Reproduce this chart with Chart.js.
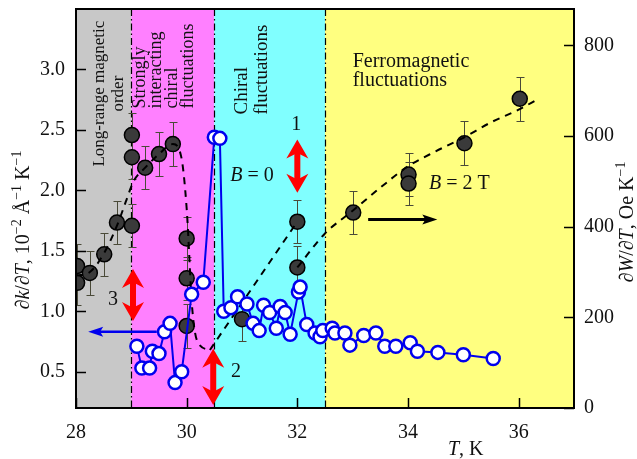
<!DOCTYPE html>
<html>
<head>
<meta charset="utf-8">
<script src="https://cdn.jsdelivr.net/npm/chart.js@4"></script>
<style>
html, body { margin: 0; padding: 0; background: #fff; }
</style>
</head>
<body>
<canvas id="chart" width="637" height="459"></canvas>
<script>
// dk/dT at B = 0 (open blue circles, left axis)
var kT = [29.10, 29.19, 29.33, 29.38, 29.50, 29.60, 29.70, 29.79, 29.91, 30.09, 30.30, 30.50, 30.60, 30.67,
          30.80, 30.92, 31.09, 31.20, 31.31, 31.39, 31.50, 31.62, 31.69, 31.78, 31.87, 32.02, 32.05, 32.17,
          32.32, 32.41, 32.46, 32.63, 32.68, 32.86, 32.95, 33.20, 33.42, 33.58, 33.78, 34.04, 34.17, 34.54,
          35.00, 35.54];
var kVal = [0.71, 0.53, 0.53, 0.67, 0.65, 0.83, 0.90, 0.41, 0.50, 1.14, 1.24, 2.44, 2.43, 1.00,
            1.03, 1.12, 1.06, 0.90, 0.84, 1.05, 0.99, 0.86, 1.04, 0.99, 0.81, 1.16, 1.20, 0.89,
            0.82, 0.79, 0.84, 0.86, 0.82, 0.82, 0.72, 0.80, 0.82, 0.71, 0.71, 0.74, 0.67, 0.66,
            0.64, 0.61];

// dW/dT at B = 2 T (filled circles, right axis) with error bars
var wT   = [28.02, 28.02, 28.25, 28.51, 28.74, 29.01, 29.01, 29.01, 29.25, 29.50, 29.75, 30.00, 30.00, 30.00,
            31.00, 32.00, 32.00, 33.01, 34.01, 34.01, 35.02, 36.02];
var wVal = [313, 276, 298, 339, 409, 402, 553, 602, 530, 560, 582, 374, 286, 181,
            196, 310, 411, 431, 515, 495, 584, 682];
var wErr = [48, 48, 48, 48, 48, 48, 48, 48, 48, 48, 48, 48, 48, 48,
            48, 48, 48, 48, 48, 48, 48, 48];

// dashed guide curves (right axis)
var guide1T   = [28.0, 28.25, 28.5, 28.75, 28.9, 29.04, 29.25, 29.5, 29.75, 29.9, 30.0, 30.1, 30.2, 30.42];
var guide1Val = [292, 300, 340, 405, 455, 500, 530, 560, 582, 555, 440, 220, 145, 128];
var guide2T   = [30.42, 32.0];
var guide2Val = [128, 411];
var guide3T   = [32.0, 32.5, 33.0, 33.5, 34.0, 34.5, 35.0, 35.5, 36.0, 36.33];
var guide3Val = [310, 385, 435, 486, 533, 566, 596, 630, 658, 680];

// axes
var xTicks = [28, 30, 32, 34, 36];
var leftTicks = [0.5, 1.0, 1.5, 2.0, 2.5, 3.0];
var rightTicks = [0, 200, 400, 600, 800];

// regimes
var regionEdges = [28, 29, 30.5, 32.5, 37];
var regionColors = ['#c8c8c8', '#ff80ff', '#80ffff', '#ffff80'];

var SERIF = "'Liberation Serif', 'Times New Roman', serif";
Chart.defaults.font.family = SERIF;

function pts(xs, ys) {
    return xs.map(function (x, i) { return { x: x, y: ys[i] }; });
}

function fontFor(style, size) {
    if (style === 'sup') return (size * 0.7) + 'px ' + SERIF;
    return (style || '') + size + 'px ' + SERIF;
}

// draw text made of pieces (italic letters, superscripts)
function drawRich(ctx, parts, x, y, size, rot, align) {
    ctx.save();
    ctx.translate(x, y);
    ctx.rotate(rot);
    ctx.textBaseline = 'alphabetic';
    ctx.textAlign = 'left';
    var w = 0;
    parts.forEach(function (p) { ctx.font = fontFor(p[1], size); w += ctx.measureText(p[0]).width; });
    var cx = align === 'center' ? -w / 2 : 0;
    parts.forEach(function (p) {
        ctx.font = fontFor(p[1], size);
        ctx.fillText(p[0], cx, p[1] === 'sup' ? -size * 0.42 : 0);
        cx += ctx.measureText(p[0]).width;
    });
    ctx.restore();
}

function lines(ctx, list, xs, y, size, rot, align) {
    list.forEach(function (t, i) { drawRich(ctx, [[t, '']], xs[i], y, size, rot, align); });
}

function arrowHead(ctx, x, y, ang, len, half, notch) {
    ctx.save();
    ctx.translate(x, y);
    ctx.rotate(ang);
    ctx.beginPath();
    ctx.moveTo(0, 0);
    ctx.lineTo(-len, -half);
    ctx.lineTo(-len * notch, 0);
    ctx.lineTo(-len, half);
    ctx.closePath();
    ctx.fill();
    ctx.restore();
}

function redArrow(ctx, x, y1, y2) {
    ctx.save();
    ctx.strokeStyle = '#ff0000';
    ctx.fillStyle = '#ff0000';
    ctx.lineWidth = 6;
    ctx.beginPath();
    ctx.moveTo(x, y1 + 10);
    ctx.lineTo(x, y2 - 10);
    ctx.stroke();
    arrowHead(ctx, x, y1, -Math.PI / 2, 19, 11, 0.7);
    arrowHead(ctx, x, y2, Math.PI / 2, 19, 11, 0.7);
    ctx.restore();
}

function flatArrow(ctx, x1, x2, y, color, width) {
    ctx.save();
    ctx.strokeStyle = color;
    ctx.fillStyle = color;
    ctx.lineWidth = width;
    var dir = x2 > x1 ? 1 : -1;
    ctx.beginPath();
    ctx.moveTo(x1, y);
    ctx.lineTo(x2 - dir * 8, y);
    ctx.stroke();
    arrowHead(ctx, x2, y, dir > 0 ? 0 : Math.PI, 15, 5, 0.8);
    ctx.restore();
}

function noEdgePadding(s) {
    s.paddingTop = 0;
    s.paddingBottom = 0;
    s.paddingLeft = 0;
    s.paddingRight = 0;
}

var decor = {
    id: 'decor',
    beforeDraw: function (chart) {
        var ctx = chart.ctx, a = chart.chartArea, xs = chart.scales.x;
        ctx.save();
        for (var i = 0; i < regionColors.length; i++) {
            var l = xs.getPixelForValue(regionEdges[i]);
            var r = xs.getPixelForValue(regionEdges[i + 1]);
            ctx.fillStyle = regionColors[i];
            ctx.fillRect(l, a.top, r - l, a.bottom - a.top);
        }
        ctx.restore();
    },
    beforeDatasetsDraw: function (chart) {
        var ctx = chart.ctx, a = chart.chartArea, xs = chart.scales.x, ys = chart.scales.y2;
        ctx.save();
        // regime boundaries
        ctx.strokeStyle = '#000';
        ctx.lineWidth = 1.2;
        ctx.setLineDash([7, 3, 1.5, 3]);
        [29, 30.5, 32.5].forEach(function (v) {
            var x = Math.round(xs.getPixelForValue(v)) + 0.5;
            ctx.beginPath();
            ctx.moveTo(x, a.top);
            ctx.lineTo(x, a.bottom);
            ctx.stroke();
        });
        ctx.setLineDash([]);
        // error bars
        ctx.beginPath();
        ctx.rect(a.left, a.top, a.right - a.left, a.bottom - a.top);
        ctx.clip();
        ctx.strokeStyle = '#4a4a38';
        ctx.lineWidth = 1;
        wT.forEach(function (t, i) {
            var x = Math.round(xs.getPixelForValue(t)) + 0.5;
            var yt = Math.round(ys.getPixelForValue(wVal[i] + wErr[i])) + 0.5;
            var yb = Math.round(ys.getPixelForValue(wVal[i] - wErr[i])) + 0.5;
            ctx.beginPath();
            ctx.moveTo(x, yt); ctx.lineTo(x, yb);
            ctx.moveTo(x - 4, yt); ctx.lineTo(x + 4, yt);
            ctx.moveTo(x - 4, yb); ctx.lineTo(x + 4, yb);
            ctx.stroke();
        });
        ctx.restore();
    },
    afterDatasetsDraw: function (chart) {
        var ctx = chart.ctx, a = chart.chartArea, xs = chart.scales.x, yl = chart.scales.y, yr = chart.scales.y2;
        var X = function (v) { return xs.getPixelForValue(v); };
        var Y = function (v) { return yl.getPixelForValue(v); };
        ctx.save();
        // arrows
        redArrow(ctx, X(32.0), Y(2.42), Y(1.98));
        redArrow(ctx, X(29.03), Y(1.35), Y(0.92));
        redArrow(ctx, X(30.48), Y(0.69), Y(0.225));
        flatArrow(ctx, X(29.46), X(28.22), Y(0.83), '#0000ee', 2.5);
        flatArrow(ctx, X(33.28), X(34.53), Y(1.76), '#000', 3);

        // labels
        ctx.fillStyle = '#111';
        var up = -Math.PI / 2;
        lines(ctx, ['Long-range magnetic', 'order'], [X(28.50), X(28.85)], Y(2.80), 17, up, 'center');
        lines(ctx, ['Strongly', 'interacting', 'chiral', 'fluctuations'],
              [X(29.247), X(29.536), X(29.825), X(30.115)], Y(2.677), 18, up, 'left');
        lines(ctx, ['Chiral', 'fluctuations'], [X(31.09), X(31.45)], Y(2.628), 19, up, 'left');
        drawRich(ctx, [['Ferromagnetic', '']], X(33.0), Y(3.02), 20, 0, 'left');
        drawRich(ctx, [['fluctuations', '']], X(33.0), Y(2.865), 20, 0, 'left');
        drawRich(ctx, [['1', '']], X(31.98), Y(2.50), 20, 0, 'center');
        drawRich(ctx, [['2', '']], X(30.89), Y(0.46), 20, 0, 'center');
        drawRich(ctx, [['3', '']], X(28.67), Y(1.05), 20, 0, 'center');
        drawRich(ctx, [['B', 'italic '], [' = 0', '']], X(31.18), Y(2.08), 20, 0, 'center');
        drawRich(ctx, [['B', 'italic '], [' = 2 T', '']], X(34.93), Y(2.01), 20, 0, 'center');

        // axis titles
        drawRich(ctx, [['\u2202', ''], ['k', 'italic '], ['/\u2202', ''], ['T', 'italic '], [', 10', ''], ['\u22122', 'sup'],
                       [' \u00c5', ''], ['\u22121', 'sup'], [' K', ''], ['\u22121', 'sup']],
                 29, 230, 20, up, 'center');
        drawRich(ctx, [['\u2202', ''], ['W', 'italic '], ['/\u2202', ''], ['T', 'italic '], [', Oe K', ''], ['\u22121', 'sup']],
                 633, 222, 20, up, 'center');
        drawRich(ctx, [['T', 'italic '], [', K', '']], 448, 455, 20, 0, 'left');

        // inward tick marks
        ctx.strokeStyle = '#000';
        ctx.lineWidth = 1.5;
        ctx.beginPath();
        leftTicks.forEach(function (v) {
            var y = Math.round(Y(v)) + 0.5;
            ctx.moveTo(a.left, y); ctx.lineTo(a.left + 10, y);
        });
        rightTicks.forEach(function (v) {
            var y = Math.round(yr.getPixelForValue(v)) + 0.5;
            ctx.moveTo(a.right, y); ctx.lineTo(a.right - 10, y);
        });
        xTicks.forEach(function (v) {
            var x = Math.round(X(v)) + 0.5;
            ctx.moveTo(x, a.bottom); ctx.lineTo(x, a.bottom - 10);
        });
        ctx.stroke();

        // frame
        ctx.lineWidth = 2;
        ctx.strokeRect(a.left, a.top, a.right - a.left, a.bottom - a.top);
        ctx.restore();
    }
};

var tickFont = { family: SERIF, size: 20 };

new Chart(document.getElementById('chart').getContext('2d'), {
    type: 'scatter',
    data: {
        datasets: [{
            label: 'dk/dT, B = 0',
            data: pts(kT, kVal),
            yAxisID: 'y',
            showLine: true,
            borderColor: '#0000ee',
            borderWidth: 2,
            pointRadius: 6.5,
            pointBackgroundColor: '#ffffff',
            pointBorderColor: '#0000ee',
            pointBorderWidth: 2.5
        }, {
            label: 'guide 1',
            data: pts(guide1T, guide1Val),
            yAxisID: 'y2',
            showLine: true,
            borderColor: '#000',
            borderWidth: 2,
            borderDash: [7, 6],
            pointRadius: 0,
            cubicInterpolationMode: 'monotone'
        }, {
            label: 'guide 2',
            data: pts(guide2T, guide2Val),
            yAxisID: 'y2',
            showLine: true,
            borderColor: '#000',
            borderWidth: 2,
            borderDash: [7, 6],
            pointRadius: 0
        }, {
            label: 'guide 3',
            data: pts(guide3T, guide3Val),
            yAxisID: 'y2',
            showLine: true,
            borderColor: '#000',
            borderWidth: 2,
            borderDash: [7, 6],
            pointRadius: 0,
            cubicInterpolationMode: 'monotone'
        }, {
            label: 'dW/dT, B = 2 T',
            data: pts(wT, wVal),
            yAxisID: 'y2',
            showLine: false,
            pointRadius: 7.5,
            pointBackgroundColor: '#3a3a3a',
            pointBorderColor: '#000',
            pointBorderWidth: 1.5,
            clip: 0
        }]
    },
    options: {
        responsive: false,
        animation: false,
        devicePixelRatio: 1,
        layout: { padding: { top: 7, left: 0, right: 0, bottom: 0 } },
        plugins: { legend: { display: false }, tooltip: { enabled: false } },
        scales: {
            x: {
                type: 'linear', position: 'bottom', min: 28, max: 37,
                afterFit: function (s) { s.height = 51; noEdgePadding(s); },
                afterBuildTicks: function (s) { s.ticks = xTicks.map(function (v) { return { value: v }; }); },
                grid: { display: false, drawTicks: false },
                border: { display: false },
                ticks: { font: tickFont, color: '#111', padding: 13, maxRotation: 0 }
            },
            y: {
                type: 'linear', position: 'left', min: 0.2, max: 3.5,
                afterFit: function (s) { s.width = 76; noEdgePadding(s); },
                afterBuildTicks: function (s) { s.ticks = leftTicks.map(function (v) { return { value: v }; }); },
                grid: { display: false, drawTicks: false },
                border: { display: false },
                ticks: { font: tickFont, color: '#111', padding: 11, callback: function (v) { return v.toFixed(1); } }
            },
            y2: {
                type: 'linear', position: 'right', min: 0, max: 880,
                afterFit: function (s) { s.width = 63; noEdgePadding(s); },
                afterBuildTicks: function (s) { s.ticks = rightTicks.map(function (v) { return { value: v }; }); },
                grid: { display: false, drawTicks: false },
                border: { display: false },
                ticks: { font: tickFont, color: '#111', padding: 10 }
            }
        }
    },
    plugins: [decor]
});
</script>
</body>
</html>
